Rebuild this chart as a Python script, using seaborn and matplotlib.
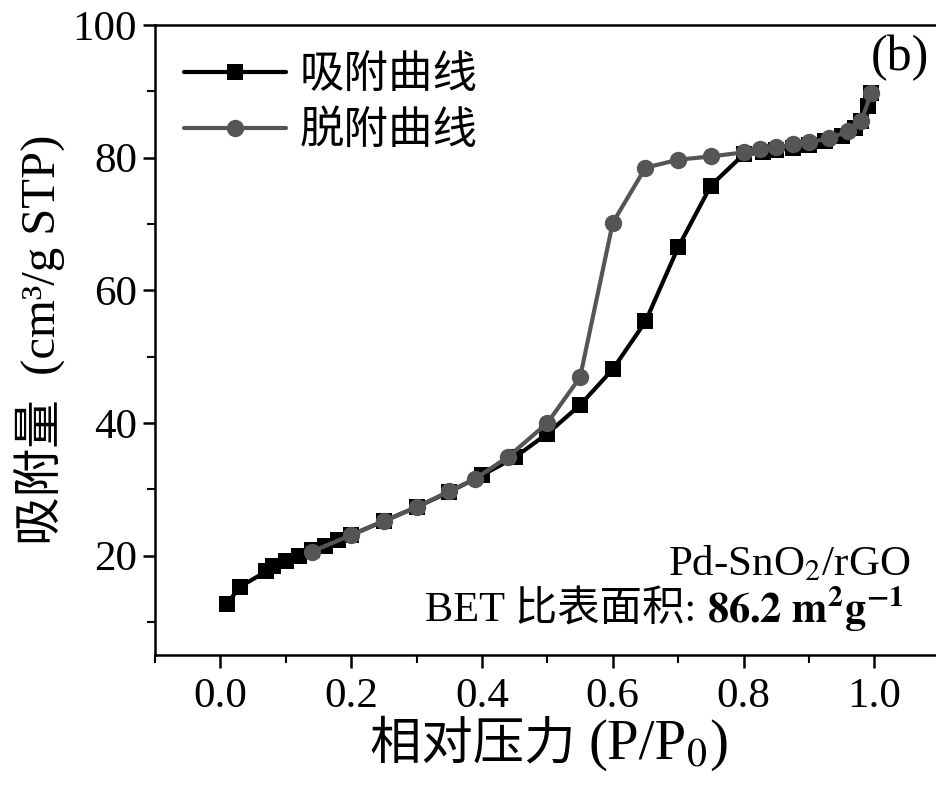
import matplotlib
matplotlib.use("Agg")
import matplotlib.pyplot as plt
import seaborn as sns
import pandas as pd
from matplotlib.ticker import MultipleLocator
from matplotlib.offsetbox import TextArea, HPacker, AnnotationBbox

# ---- data ----
ads_p = [0.01, 0.03, 0.07, 0.08, 0.10, 0.12, 0.14, 0.16, 0.18, 0.20, 0.25, 0.30, 0.35, 0.40,
         0.45, 0.50, 0.55, 0.60, 0.65, 0.70, 0.75, 0.80, 0.83, 0.85, 0.875, 0.90, 0.925,
         0.95, 0.97, 0.98, 0.99, 0.995]
ads_v = [12.7, 15.3, 17.6, 18.4, 19.2, 20.0, 20.8, 21.5, 22.3, 23.1, 25.2, 27.3, 29.6, 32.1,
         34.8, 38.4, 42.7, 48.1, 55.3, 66.5, 75.8, 80.5, 80.8, 81.1, 81.5, 81.9, 82.5,
         83.3, 84.5, 85.5, 87.8, 89.7]
des_p = [0.995, 0.98, 0.96, 0.93, 0.90, 0.875, 0.85, 0.825, 0.80, 0.75, 0.70, 0.65, 0.60,
         0.55, 0.50, 0.44, 0.39, 0.35, 0.30, 0.25, 0.20, 0.14]
des_v = [89.7, 85.6, 84.0, 82.9, 82.3, 82.0, 81.6, 81.3, 80.8, 80.2, 79.7, 78.5, 70.2,
         46.9, 40.0, 34.9, 31.6, 29.7, 27.3, 25.2, 23.1, 20.6]
series_names = ["吸附曲线", "脱附曲线"]
xticks = [0.0, 0.2, 0.4, 0.6, 0.8, 1.0]
yticks = [20, 40, 60, 80, 100]

ads = pd.DataFrame({"p": ads_p, "v": ads_v})
des = pd.DataFrame({"p": des_p, "v": des_v})

sns.set_theme(style="ticks")
FAM = ['Liberation Serif', 'Noto Sans CJK SC', 'DejaVu Sans']
plt.rcParams['font.family'] = FAM
plt.rcParams['mathtext.fontset'] = 'stix'
plt.rcParams['axes.linewidth'] = 1.8
for k in ['text.color', 'axes.labelcolor', 'xtick.color', 'ytick.color', 'axes.edgecolor']:
    plt.rcParams[k] = 'black'

fig = plt.figure(figsize=(9.37, 7.85), dpi=100)
ax = fig.add_axes([0.1654, 0.1656, 0.8376, 0.8024])

sns.lineplot(data=ads, x="p", y="v", ax=ax, sort=False, color="black", lw=3,
             marker="s", markersize=11, markeredgewidth=0, label=series_names[0])
sns.lineplot(data=des, x="p", y="v", ax=ax, sort=False, color="#555555", lw=3,
             marker="o", markersize=12.5, markeredgewidth=0, label=series_names[1])

ax.set_xlim(-0.1, 1.1)
ax.set_ylim(5, 100)
ax.set_xticks(xticks)
ax.set_xticklabels([f"{t:.1f}" for t in xticks])
ax.set_yticks(yticks)
ax.xaxis.set_minor_locator(MultipleLocator(0.1))
ax.yaxis.set_minor_locator(MultipleLocator(10))
ax.tick_params(axis="both", which="major", direction="out", length=9, width=1.8,
               labelsize=31, colors="black", pad=4)
ax.tick_params(axis="x", which="major", pad=7)
ax.tick_params(axis="both", which="minor", direction="out", length=6, width=1.5)
for s in ax.spines.values():
    s.set_color("black")
    s.set_visible(True)

ax.set_xlabel("")
ax.set_ylabel("吸附量  (cm³/g STP)", fontsize=35, labelpad=5, color="black")


def packed(target, parts, xy, coords, align):
    kids = [TextArea(s, textprops=dict(color="black", **kw)) for s, kw in parts]
    box = HPacker(children=kids, align="baseline", pad=0, sep=0)
    ab = AnnotationBbox(box, xy, xycoords=coords, box_alignment=align,
                        frameon=False, pad=0, annotation_clip=False)
    target.add_artist(ab)


# x-axis label
packed(fig, [("相对压力 ", dict(fontsize=37, family=FAM)),
             ("(P/P", dict(fontsize=41, family=FAM)),
             ("$_0$)", dict(fontsize=41))],
       (549, 40), "figure pixels", (0.5, 0.5))

leg = ax.legend(loc="upper left", bbox_to_anchor=(0.037, 0.952), frameon=False,
                fontsize=32, handlelength=2.3, handletextpad=0.3, labelspacing=0.32,
                borderaxespad=0, borderpad=0)
for t in leg.get_texts():
    t.set_color("black")

ax.text(0.987, 0.985, "(b)", transform=ax.transAxes, ha="right", va="top", fontsize=36)
ax.text(0.963, 0.143, "Pd-SnO$_2$/rGO", transform=ax.transAxes, ha="right",
        va="center", fontsize=31)
packed(ax, [("BET 比表面积: ", dict(fontsize=30.5, family=FAM)),
            ("$\\mathbf{86.2\\ m^2g^{-1}}$", dict(fontsize=30.5))],
       (0.953, 0.075), "axes fraction", (1.0, 0.5))

fig.savefig("out.png", dpi=100)
